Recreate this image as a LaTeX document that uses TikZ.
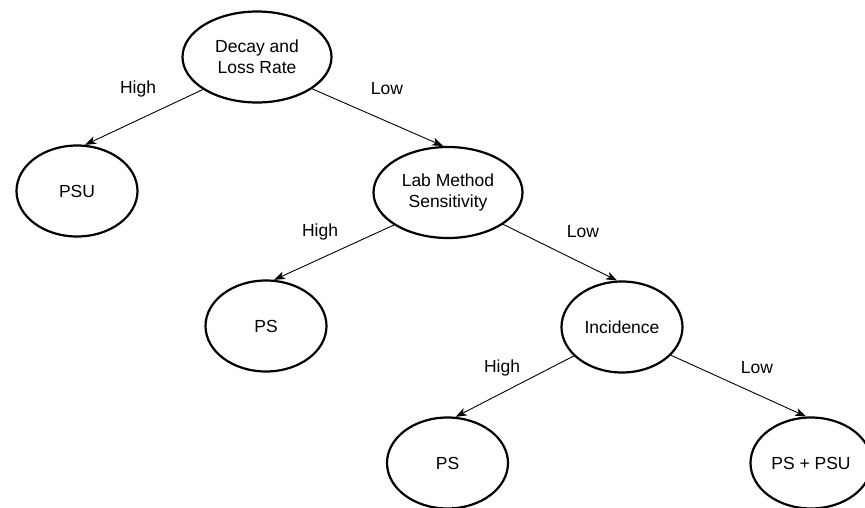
\documentclass[tikz,border=0pt]{standalone}
\usepackage{fontspec}
\setmainfont{Liberation Sans}
\usetikzlibrary{shapes.geometric,arrows.meta}
\tikzset{
  choice/.style={ellipse, draw=black, line width=2.2pt, inner sep=0pt,
    minimum width=121pt, minimum height=91pt, align=center,
    font=\fontsize{17.5}{21}\selectfont},
  wide/.style={minimum width=149pt},
  branch/.style={draw=black, line width=0.9pt, -{Stealth[length=11pt,width=8pt,inset=3pt]}},
  lbl/.style={font=\fontsize{17.5}{21}\selectfont, inner sep=0pt}
}
\begin{document}
\begin{tikzpicture}[x=1pt,y=-1pt]
\useasboundingbox (0,0) rectangle (865,508);
\node[choice,wide] (decay) at (257,57) {Decay and\\Loss Rate};
\node[choice] (psu) at (77,191) {PSU};
\node[choice,wide] (lab) at (448,192.5) {Lab Method\\Sensitivity};
\node[choice] (ps1) at (266,326) {PS};
\node[choice] (inc) at (622,327) {Incidence};
\node[choice] (ps2) at (447.5,463) {PS};
\node[choice] (pspsu) at (811,463) {PS + PSU};
\draw[branch] (decay.211.5) -- (psu.80);
\draw[branch] (decay.330.5) -- (lab.96);
\draw[branch] (lab.211.5) -- (ps1.80);
\draw[branch] (lab.330.5) -- (inc.96);
\draw[branch] (inc.211.5) -- (ps2.80);
\draw[branch] (inc.330.5) -- (pspsu.96);
\node[lbl] (l1) at (138,89) {High};
\node[lbl] (l2) at (387,89) {Low};
\node[lbl] (l3) at (320,232) {High};
\node[lbl] (l4) at (583,232) {Low};
\node[lbl] (l5) at (502,368) {High};
\node[lbl] (l6) at (757,368) {Low};
\end{tikzpicture}
\end{document}
